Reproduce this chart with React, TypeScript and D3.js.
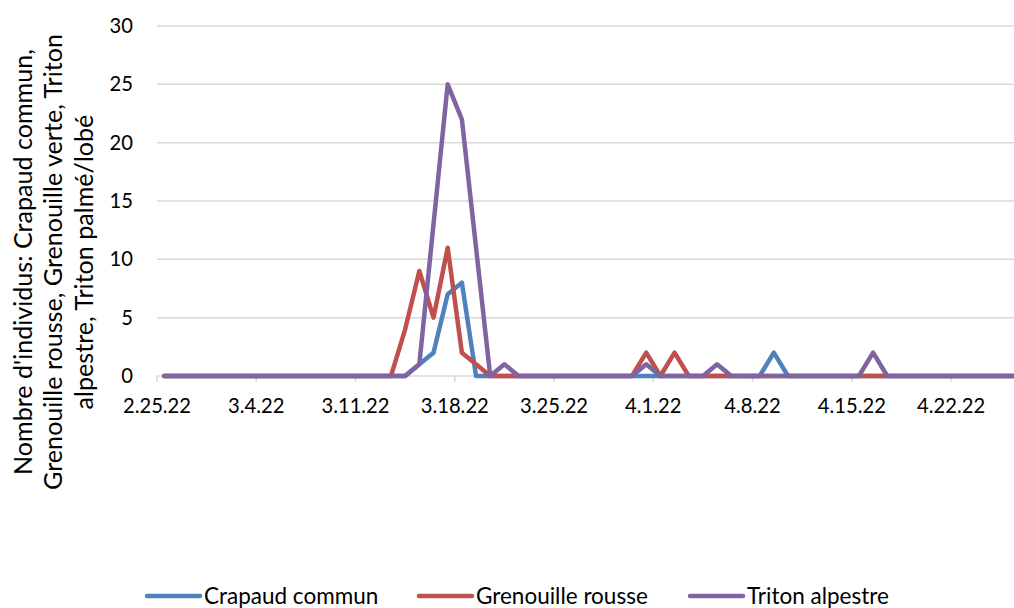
import React from "react";
import * as d3 from "d3";

const startDate = new Date(2022, 1, 25);
const endDate = new Date(2022, 3, 28);
const dates: Date[] = d3.timeDay.range(startDate, endDate);

const crapaudCommun = [
  0, 0, 0, 0, 0, 0, 0, 0, 0, 0, 0, 0, 0, 0, 0, 0, 0, 0,
  1, 2, 7, 8,
  0, 0, 0, 0, 0, 0, 0, 0, 0, 0, 0, 0, 0, 0, 0, 0, 0, 0, 0, 0, 0,
  2,
  0, 0, 0, 0, 0, 0, 0, 0, 0, 0, 0, 0, 0, 0, 0, 0, 0, 0,
];
const grenouilleRousse = [
  0, 0, 0, 0, 0, 0, 0, 0, 0, 0, 0, 0, 0, 0, 0, 0, 0,
  4, 9, 5, 11, 2, 1,
  0, 0, 0, 0, 0, 0, 0, 0, 0, 0, 0,
  2, 0, 2,
  0, 0, 0, 0, 0, 0, 0, 0, 0, 0, 0, 0, 0, 0, 0, 0, 0, 0, 0, 0, 0, 0, 0, 0, 0,
];
const tritonAlpestre = [
  0, 0, 0, 0, 0, 0, 0, 0, 0, 0, 0, 0, 0, 0, 0, 0, 0, 0,
  1, 13, 25, 22, 11, 0, 1,
  0, 0, 0, 0, 0, 0, 0, 0, 0,
  1, 0, 0, 0, 0, 1,
  0, 0, 0, 0, 0, 0, 0, 0, 0, 0,
  2,
  0, 0, 0, 0, 0, 0, 0, 0, 0, 0, 0,
];

const seriesNames = ["Crapaud commun", "Grenouille rousse", "Triton alpestre"];
const seriesValues = [crapaudCommun, grenouilleRousse, tritonAlpestre];
const seriesColors = ["#4F81BD", "#C0504D", "#8064A2"];
const yTicks = [0, 5, 10, 15, 20, 25, 30];
const titleLines = [
  "Nombre d'individus: Crapaud commun,",
  "Grenouille rousse, Grenouille verte, Triton",
  "alpestre, Triton palmé/lobé",
];

const FONT = "Lato, 'Open Sans', sans-serif";

export default function App() {
  const left = 157;
  const dayW = 14.18;
  const x = d3
    .scaleTime()
    .domain([startDate, endDate])
    .range([left, left + dates.length * dayW]);
  const y = d3.scaleLinear().domain([0, 30]).range([376, 26]);
  const fmt = d3.timeFormat("%-m.%-d.%y");
  const tickDates = dates.filter((_, i) => i % 7 === 0);
  const mid = (d: Date) => d3.timeHour.offset(d, 12);

  const line = d3
    .line<number>()
    .x((_, i) => x(mid(dates[i])))
    .y((v) => y(v));

  const legendX = [145, 417, 688];

  return (
    <svg width={1014} height={608} style={{ position: "absolute", left: 0, top: 0, background: "#fff" }} fontFamily={FONT}>
      <rect width={1014} height={608} fill="#fff" />
      {yTicks.map((t) => (
        <line key={t} x1={left} x2={1014} y1={y(t)} y2={y(t)} stroke="#d9d9d9" strokeWidth={1.5} />
      ))}
      {tickDates.map((d, i) => (
        <line key={i} x1={x(d)} x2={x(d)} y1={376} y2={382} stroke="#d9d9d9" strokeWidth={1.5} />
      ))}
      {yTicks.map((t) => (
        <text key={t} x={133} y={y(t)} dy="0.35em" textAnchor="end" fontSize={20.2} fill="#000">
          {t}
        </text>
      ))}
      {tickDates.map((d, i) => (
        <text key={i} x={x(d)} y={413} textAnchor="middle" fontSize={20.2} fill="#000">
          {fmt(d)}
        </text>
      ))}
      <g transform="translate(0,262) rotate(-90)">
        {titleLines.map((l, i) => (
          <text key={i} x={0} y={31.5 + i * 30.8} textAnchor="middle" fontSize={25.1} fill="#000">
            {l}
          </text>
        ))}
      </g>
      {seriesValues.map((vals, si) => (
        <path key={si} d={line(vals) || ""} fill="none" stroke={seriesColors[si]} strokeWidth={4.5} strokeLinejoin="round" strokeLinecap="round" />
      ))}
      {seriesNames.map((n, i) => (
        <g key={n}>
          <line x1={legendX[i] + 2} x2={legendX[i] + 55} y1={596} y2={596} stroke={seriesColors[i]} strokeWidth={4.5} strokeLinecap="round" />
          <text x={legendX[i] + 59} y={604} fontSize={22.5} fill="#000">
            {n}
          </text>
        </g>
      ))}
    </svg>
  );
}
